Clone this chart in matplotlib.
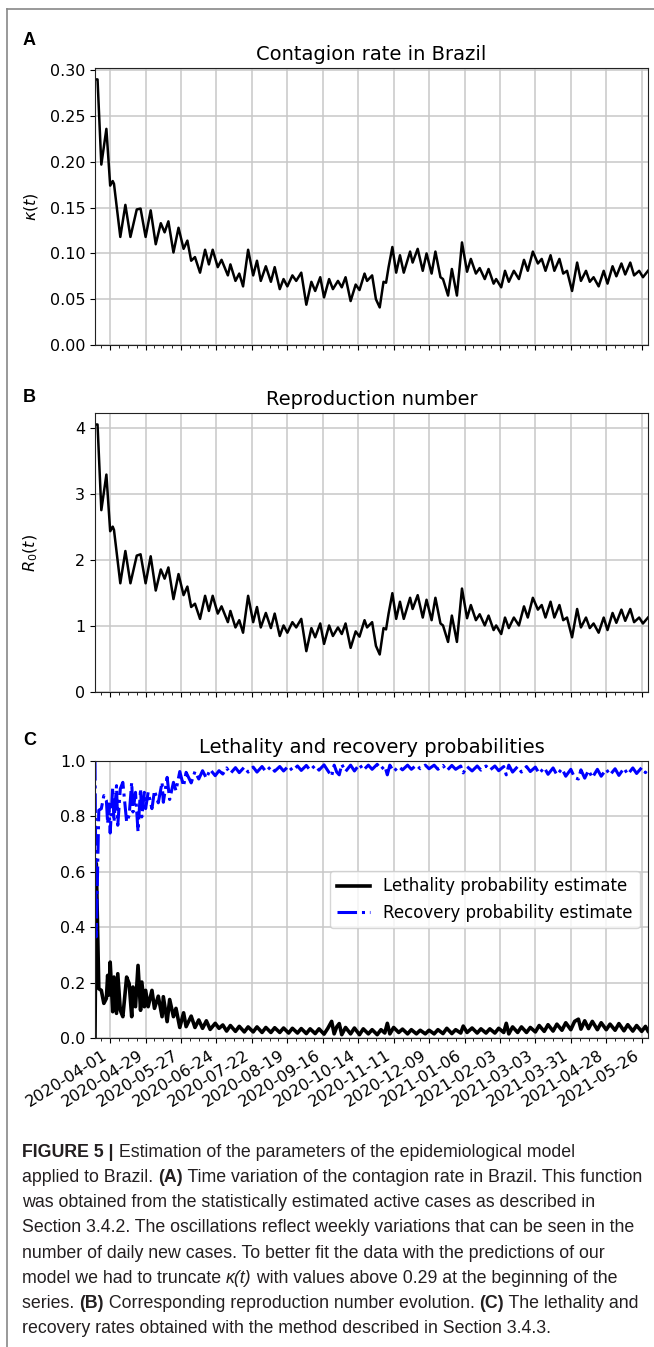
import matplotlib
matplotlib.use('Agg')
import matplotlib.pyplot as plt
import matplotlib.dates as mdates
from matplotlib.lines import Line2D
import pandas as pd

# days counted from 2020-04-01
kappa_days = [-12, -10, -7, -3, 0, 2, 3, 8, 12, 16,
              21, 24, 28, 32, 36, 40, 43, 46, 50, 54,
              58, 61, 64, 67, 71, 75, 78, 81, 85, 88,
              93, 95, 99, 102, 105, 109, 113, 116, 119, 123,
              127, 130, 134, 137, 140, 144, 147, 151, 155, 159,
              162, 166, 169, 173, 176, 180, 183, 186, 190, 194,
              197, 201, 203, 207, 210, 213, 216, 218, 220, 223,
              226, 229, 232, 237, 239, 243, 247, 250, 254, 257,
              261, 263, 267, 270, 274, 278, 282, 285, 289, 292,
              296, 299, 303, 305, 309, 312, 315, 319, 323, 327,
              330, 334, 338, 341, 344, 348, 351, 355, 358, 361,
              365, 369, 372, 376, 379, 382, 386, 390, 393, 397,
              400, 404, 407, 411, 414, 418, 421, 425]
kappa = [0.290, 0.290, 0.197, 0.236, 0.174, 0.179, 0.176, 0.118, 0.153, 0.118,
         0.148, 0.149, 0.118, 0.147, 0.110, 0.133, 0.123, 0.135, 0.101, 0.128,
         0.105, 0.114, 0.092, 0.096, 0.079, 0.104, 0.088, 0.104, 0.085, 0.093,
         0.076, 0.088, 0.070, 0.078, 0.064, 0.104, 0.076, 0.092, 0.070, 0.086,
         0.069, 0.085, 0.061, 0.072, 0.064, 0.076, 0.070, 0.079, 0.044, 0.069,
         0.059, 0.074, 0.052, 0.072, 0.061, 0.070, 0.063, 0.074, 0.048, 0.066,
         0.060, 0.078, 0.070, 0.076, 0.050, 0.041, 0.069, 0.068, 0.085, 0.107,
         0.079, 0.098, 0.079, 0.102, 0.090, 0.105, 0.081, 0.100, 0.078, 0.102,
         0.074, 0.072, 0.054, 0.083, 0.054, 0.112, 0.080, 0.094, 0.078, 0.084,
         0.072, 0.083, 0.067, 0.072, 0.063, 0.081, 0.069, 0.081, 0.072, 0.093,
         0.081, 0.102, 0.089, 0.094, 0.081, 0.098, 0.081, 0.094, 0.078, 0.081,
         0.059, 0.090, 0.070, 0.081, 0.069, 0.074, 0.064, 0.081, 0.067, 0.086,
         0.075, 0.089, 0.077, 0.090, 0.076, 0.081, 0.074, 0.081]
r0 = [4.06, 4.06, 2.76, 3.30, 2.44, 2.51, 2.46, 1.65, 2.14, 1.65,
      2.07, 2.09, 1.65, 2.06, 1.54, 1.86, 1.72, 1.89, 1.41, 1.79,
      1.47, 1.60, 1.29, 1.34, 1.11, 1.46, 1.23, 1.46, 1.19, 1.30,
      1.06, 1.23, 0.98, 1.09, 0.90, 1.46, 1.06, 1.29, 0.98, 1.20,
      0.97, 1.19, 0.85, 1.01, 0.90, 1.06, 0.98, 1.11, 0.62, 0.97,
      0.83, 1.04, 0.73, 1.01, 0.85, 0.98, 0.88, 1.04, 0.67, 0.92,
      0.84, 1.09, 0.98, 1.06, 0.70, 0.57, 0.97, 0.95, 1.19, 1.50,
      1.11, 1.37, 1.11, 1.43, 1.26, 1.47, 1.13, 1.40, 1.09, 1.43,
      1.04, 1.01, 0.76, 1.16, 0.76, 1.57, 1.12, 1.32, 1.09, 1.18,
      1.01, 1.16, 0.94, 1.01, 0.88, 1.13, 0.97, 1.13, 1.01, 1.30,
      1.13, 1.43, 1.25, 1.32, 1.13, 1.37, 1.13, 1.32, 1.09, 1.13,
      0.83, 1.26, 0.98, 1.13, 0.97, 1.04, 0.90, 1.13, 0.94, 1.20,
      1.05, 1.25, 1.08, 1.26, 1.06, 1.13, 1.04, 1.13]

leth_days = [-12, -11, -9, -7, -5, -3, -2, -1, 0, 2,
             3, 5, 6, 8, 10, 13, 15, 17, 18, 20,
             22, 24, 25, 27, 28, 30, 33, 35, 38, 41,
             42, 45, 47, 50, 52, 55, 58, 60, 64, 67,
             70, 73, 76, 79, 83, 86, 89, 92, 95, 99,
             102, 106, 109, 113, 116, 120, 123, 127, 130, 134,
             137, 141, 144, 148, 151, 155, 158, 162, 165, 169,
             172, 175, 177, 179, 181, 183, 186, 190, 193, 197,
             200, 204, 207, 211, 214, 217, 219, 221, 224, 228,
             231, 235, 238, 242, 245, 249, 252, 256, 259, 263,
             266, 270, 273, 277, 279, 282, 286, 290, 293, 297,
             300, 304, 307, 311, 313, 315, 318, 322, 325, 329,
             332, 336, 339, 343, 346, 350, 353, 357, 360, 364,
             367, 370, 372, 375, 378, 381, 385, 388, 392, 395,
             399, 402, 406, 409, 413, 416, 420, 423, 425]
lethality = [0.000, 0.630, 0.178, 0.172, 0.125, 0.143, 0.226, 0.155, 0.274, 0.095,
             0.220, 0.089, 0.232, 0.100, 0.077, 0.220, 0.196, 0.077, 0.184, 0.113,
             0.262, 0.100, 0.202, 0.113, 0.172, 0.113, 0.172, 0.107, 0.151, 0.077,
             0.149, 0.059, 0.139, 0.077, 0.107, 0.038, 0.091, 0.041, 0.079, 0.038,
             0.065, 0.035, 0.062, 0.031, 0.053, 0.035, 0.047, 0.025, 0.045, 0.024,
             0.042, 0.022, 0.040, 0.022, 0.040, 0.020, 0.038, 0.020, 0.037, 0.020,
             0.036, 0.018, 0.035, 0.018, 0.034, 0.016, 0.033, 0.016, 0.033, 0.014,
             0.035, 0.060, 0.015, 0.040, 0.052, 0.012, 0.038, 0.015, 0.036, 0.012,
             0.033, 0.015, 0.030, 0.012, 0.030, 0.018, 0.053, 0.015, 0.038, 0.020,
             0.032, 0.015, 0.030, 0.015, 0.028, 0.015, 0.028, 0.015, 0.030, 0.016,
             0.035, 0.016, 0.030, 0.018, 0.043, 0.020, 0.036, 0.018, 0.033, 0.018,
             0.033, 0.018, 0.035, 0.020, 0.053, 0.015, 0.040, 0.020, 0.040, 0.020,
             0.038, 0.022, 0.045, 0.024, 0.048, 0.025, 0.050, 0.028, 0.055, 0.030,
             0.060, 0.068, 0.032, 0.062, 0.034, 0.060, 0.030, 0.055, 0.030, 0.050,
             0.028, 0.052, 0.026, 0.048, 0.025, 0.045, 0.024, 0.042, 0.025]
recovery = [1.000, 0.365, 0.822, 0.828, 0.875, 0.857, 0.774, 0.845, 0.740, 0.905,
            0.780, 0.911, 0.768, 0.900, 0.923, 0.780, 0.804, 0.923, 0.816, 0.887,
            0.745, 0.900, 0.798, 0.887, 0.828, 0.887, 0.828, 0.893, 0.849, 0.923,
            0.851, 0.941, 0.861, 0.923, 0.893, 0.962, 0.909, 0.959, 0.921, 0.962,
            0.935, 0.965, 0.938, 0.969, 0.947, 0.965, 0.953, 0.975, 0.955, 0.976,
            0.958, 0.978, 0.960, 0.978, 0.960, 0.980, 0.962, 0.980, 0.963, 0.980,
            0.964, 0.982, 0.965, 0.982, 0.966, 0.984, 0.967, 0.984, 0.967, 0.986,
            0.965, 0.945, 0.985, 0.960, 0.950, 0.988, 0.962, 0.985, 0.964, 0.988,
            0.967, 0.985, 0.970, 0.988, 0.970, 0.982, 0.950, 0.985, 0.962, 0.980,
            0.968, 0.985, 0.970, 0.985, 0.972, 0.985, 0.972, 0.985, 0.970, 0.984,
            0.965, 0.984, 0.970, 0.982, 0.957, 0.980, 0.964, 0.982, 0.967, 0.982,
            0.967, 0.982, 0.965, 0.980, 0.950, 0.985, 0.960, 0.980, 0.960, 0.980,
            0.962, 0.978, 0.955, 0.976, 0.952, 0.975, 0.950, 0.972, 0.945, 0.970,
            0.940, 0.935, 0.968, 0.938, 0.966, 0.940, 0.970, 0.945, 0.970, 0.950,
            0.972, 0.948, 0.974, 0.952, 0.975, 0.955, 0.976, 0.958, 0.975]

start = pd.Timestamp('2020-04-01')
kappa_dates = start + pd.to_timedelta(kappa_days, unit='D')
leth_dates = start + pd.to_timedelta(leth_days, unit='D')

W, H = 654, 1347
fig = plt.figure(figsize=(W / 100, H / 100), dpi=100)

def box(top, bottom):
    return [95 / W, 1 - bottom / H, 553 / W, (bottom - top) / H]

ax1 = fig.add_axes(box(68, 345))
ax2 = fig.add_axes(box(413, 692))
ax3 = fig.add_axes(box(761, 1038))

ax1.plot(kappa_dates, kappa, 'k-', lw=1.8)
ax2.plot(kappa_dates, r0, 'k-', lw=1.8)
ax3.plot(leth_dates, lethality, 'k-', lw=2.6, label='Lethality probability estimate')
ax3.plot(leth_dates, recovery, '-.', color='#0000ff', lw=2.2, label='Recovery probability estimate')

ax1.set_title('Contagion rate in Brazil', fontsize=14)
ax2.set_title('Reproduction number', fontsize=14)
ax3.set_title('Lethality and recovery probabilities', fontsize=14)
ax1.set_ylabel(r'$\kappa(t)$', fontsize=11.5)
ax2.set_ylabel(r'$R_0(t)$', fontsize=11.5)
ax1.yaxis.set_label_coords(-0.1, 0.5)
ax2.yaxis.set_label_coords(-0.1, 0.5)

ticks = pd.date_range('2020-04-01', '2021-05-26', freq='28D')
for ax in [ax1, ax2, ax3]:
    ax.set_xlim(kappa_dates[0], kappa_dates[-1])
    ax.set_xticks(ticks)
    ax.xaxis.set_minor_locator(mdates.WeekdayLocator(byweekday=mdates.WE))
    ax.grid(True, color='#c8c8c8', lw=1.1)
    ax.tick_params(labelsize=11.5)
    ax.set_axisbelow(True)
    for s in ax.spines.values():
        s.set_color('#222222')

ax1.set_ylim(bottom=0)
ax2.set_ylim(bottom=0)
ax3.set_ylim(0, 1)
ax1.set_xticklabels([])
ax2.set_xticklabels([])
ax3.xaxis.set_major_formatter(mdates.DateFormatter('%Y-%m-%d'))
plt.setp(ax3.get_xticklabels(), rotation=32, ha='right')

ax3.legend(loc='center right', fontsize=12)

for letter, y in [('A', 45), ('B', 402), ('C', 745)]:
    fig.text(23 / W, 1 - y / H, letter, fontsize=13, fontweight='bold',
             family='Liberation Sans', va='baseline')

# frame lines of the figure page
fig.add_artist(Line2D([7 / W, 1], [1 - 9 / H, 1 - 9 / H], color='#888888', lw=1.2))
fig.add_artist(Line2D([7 / W, 7 / W], [0, 1 - 9 / H], color='#888888', lw=1.2))

cap_font = ['Liberation Sans Narrow', 'Liberation Sans']
cap_size = 12.8
lines = [
    [('FIGURE 5 |', 'bold', 'normal'), (' Estimation of the parameters of the epidemiological model', 'normal', 'normal')],
    [('applied to Brazil. ', 'normal', 'normal'), ('(A)', 'bold', 'normal'),
     (' Time variation of the contagion rate in Brazil. This function', 'normal', 'normal')],
    [('was obtained from the statistically estimated active cases as described in', 'normal', 'normal')],
    [('Section 3.4.2. The oscillations reflect weekly variations that can be seen in the', 'normal', 'normal')],
    [('number of daily new cases. To better fit the data with the predictions of our', 'normal', 'normal')],
    [('model we had to truncate ', 'normal', 'normal'), ('κ(t)', 'normal', 'italic'),
     (' with values above 0.29 at the beginning of the', 'normal', 'normal')],
    [('series. ', 'normal', 'normal'), ('(B)', 'bold', 'normal'),
     (' Corresponding reproduction number evolution. ', 'normal', 'normal'), ('(C)', 'bold', 'normal'),
     (' The lethality and', 'normal', 'normal')],
    [('recovery rates obtained with the method described in Section 3.4.3.', 'normal', 'normal')],
]
renderer = fig.canvas.get_renderer()
for i, parts in enumerate(lines):
    x = 22 / W
    y = 1 - (1157 + 25.15 * i) / H
    for s, wt, st in parts:
        t = fig.text(x, y, s, fontsize=cap_size, fontweight=wt, fontstyle=st,
                     family=cap_font, color='#231f20', va='baseline', ha='left')
        bb = t.get_window_extent(renderer=renderer)
        x = bb.x1 / fig.bbox.width

fig.savefig('out.png', dpi=100)
